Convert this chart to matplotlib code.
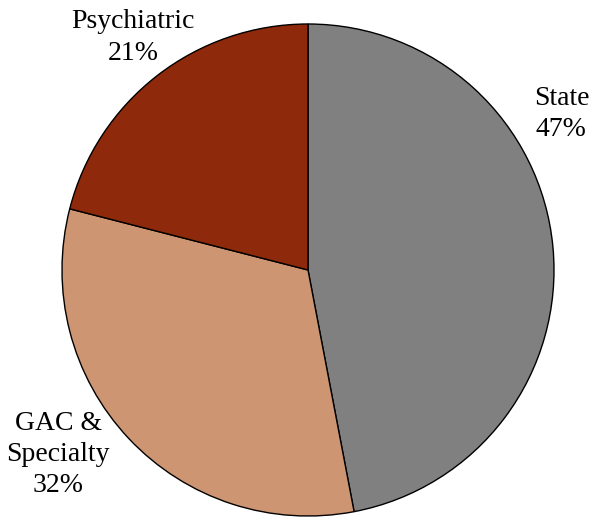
import matplotlib
matplotlib.use("Agg")
import matplotlib.pyplot as plt

categories = ["State", "GAC &\nSpecialty", "Psychiatric"]
shares = [47, 32, 21]
colors = ["#808080", "#CE9572", "#8E290B"]

# label anchor points in pie data units (radius = 1)
label_pos = [(1.03, 0.635), (-1.015, -0.75), (-0.71, 0.945)]

plt.rcParams["font.family"] = ["Liberation Serif", "DejaVu Serif"]

W, H = 591, 519
fig = plt.figure(figsize=(W / 100, H / 100), dpi=100)
cx, cy, r = 308, 270, 246
ax = fig.add_axes([(cx - r) / W, (H - cy - r) / H, 2 * r / W, 2 * r / H])

ax.pie(shares, colors=colors, startangle=90, counterclock=False,
       radius=1.0, wedgeprops=dict(edgecolor="black", linewidth=1.0))
ax.set_xlim(-1, 1)
ax.set_ylim(-1, 1)
ax.set_aspect("equal")
ax.axis("off")

for name, val, (x, y) in zip(categories, shares, label_pos):
    ax.text(x, y, f"{name}\n{val}%", ha="center", va="center",
            fontsize=20, linespacing=1.33, clip_on=False)

fig.savefig("out.png", dpi=100)
